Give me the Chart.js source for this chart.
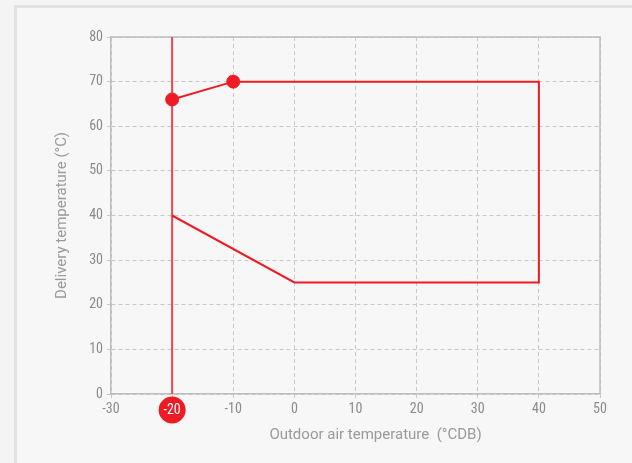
<!DOCTYPE html>
<html>
<head>
<meta charset="utf-8">
<script src="https://cdn.jsdelivr.net/npm/chart.js@4.4.1/dist/chart.umd.min.js"></script>
<style>
  html, body { margin: 0; padding: 0; background: #f4f4f4; width: 632px; height: 463px; overflow: hidden; }
  #frame { position: absolute; left: 14px; top: 5px; width: 700px; height: 600px;
           border-left: 3px solid #e2e2e2; border-top: 3px solid #e2e2e2; background: #f7f7f7; box-sizing: border-box; }
  #wrap { position: absolute; left: 0; top: 0; width: 632px; height: 463px; }
</style>
</head>
<body>
<div id="frame"></div>
<div id="wrap"><canvas id="c" width="632" height="463"></canvas></div>
<script>
// Operating envelope (outline), outdoor temp (°C DB) vs delivery temp (°C)
const envelopeX = [-20, -10, 40, 40, 0, -20];
const envelopeY = [66, 70, 70, 25, 25, 40];
// Marked points
const markerX = [-20, -10];
const markerY = [66, 70];
// Vertical reference line at -20 °C
const refLineX = [-20, -20];
const refLineY = [0, 80];
const refValue = -20;
// Axes
const xTicks = [-30, -20, -10, 0, 10, 20, 30, 40, 50];
const yTicks = [0, 10, 20, 30, 40, 50, 60, 70, 80];
const xTitle = 'Outdoor air temperature  (°CDB)';
const yTitle = 'Delivery temperature (°C)';

const toPts = (xs, ys) => xs.map((x, i) => ({ x: x, y: ys[i] }));

// pick a condensed face for tick labels if one is installed
function hasFont(name) {
  const c = document.createElement('canvas').getContext('2d');
  const s = 'mmmmwwwwiiii0123456789';
  c.font = '40px monospace';
  const w1 = c.measureText(s).width;
  c.font = "40px '" + name + "', monospace";
  const w2 = c.measureText(s).width;
  return Math.abs(w1 - w2) > 0.5;
}
let tickFont;
if (hasFont('Liberation Sans Narrow')) {
  tickFont = { family: "'Liberation Sans Narrow', sans-serif", size: 14 };
} else if (hasFont('Roboto Condensed')) {
  tickFont = { family: "'Roboto Condensed', sans-serif", size: 14 };
} else {
  tickFont = { family: "Roboto, sans-serif", size: 13 };
}

const RED = '#ed1c24';
const titleFont = { family: "Roboto, sans-serif", size: 15 };

const framePlugin = {
  id: 'frameAndBadge',
  beforeDatasetsDraw(chart) {
    const { ctx, chartArea: a } = chart;
    ctx.save();
    ctx.strokeStyle = '#bdbdbd';
    ctx.lineWidth = 1.5;
    ctx.setLineDash([]);
    ctx.beginPath();
    ctx.moveTo(a.left, a.top);
    ctx.lineTo(a.right, a.top);
    ctx.lineTo(a.right, a.bottom);
    ctx.stroke();
    ctx.restore();
  },
  afterDraw(chart) {
    const { ctx, chartArea: a } = chart;
    const xs = chart.scales.x;
    const px = xs.getPixelForValue(refValue);
    const cy = a.bottom + 16;
    ctx.save();
    // highlighted tick badge
    ctx.fillStyle = RED;
    ctx.beginPath();
    ctx.arc(px, cy, 13.5, 0, Math.PI * 2);
    ctx.fill();
    ctx.fillStyle = '#ffffff';
    ctx.font = tickFont.size + "px " + tickFont.family;
    ctx.textAlign = 'center';
    ctx.textBaseline = 'middle';
    ctx.fillText(String(refValue), px, cy);
    // x axis title (offset to the right as in the original)
    ctx.fillStyle = '#9a9a9a';
    ctx.font = titleFont.size + "px " + titleFont.family;
    ctx.fillText(xTitle, (a.left + a.right) / 2 + 20, a.bottom + 41);
    ctx.restore();
  }
};

new Chart(document.getElementById('c'), {
  type: 'scatter',
  data: {
    datasets: [
      {
        data: toPts(refLineX, refLineY),
        showLine: true,
        borderColor: '#f0454b',
        borderWidth: 2,
        pointRadius: 0,
        order: 3
      },
      {
        data: toPts(envelopeX, envelopeY),
        showLine: true,
        borderColor: RED,
        borderWidth: 2,
        pointRadius: 0,
        order: 2
      },
      {
        data: toPts(markerX, markerY),
        showLine: false,
        backgroundColor: RED,
        borderColor: RED,
        pointRadius: 6.5,
        pointHoverRadius: 6.5,
        order: 1
      }
    ]
  },
  options: {
    responsive: false,
    animation: false,
    events: [],
    layout: { padding: { left: 50, top: 37, right: 32, bottom: 0 } },
    plugins: { legend: { display: false }, tooltip: { enabled: false } },
    scales: {
      x: {
        type: 'linear',
        min: -30, max: 50,
        afterBuildTicks: (s) => { s.ticks = xTicks.map(v => ({ value: v })); },
        afterFit: (s) => { s.height = 69; },
        ticks: {
          font: tickFont,
          color: (ctx) => ctx.tick && ctx.tick.value === refValue ? 'rgba(0,0,0,0)' : '#8a8a8a',
          padding: 3,
          maxRotation: 0
        },
        grid: { color: '#c9c9c9', lineWidth: 1, tickLength: 4, tickColor: '#c9c9c9' },
        border: { display: true, color: '#bdbdbd', width: 1.5, dash: [4, 3] },
        title: { display: false, text: xTitle }
      },
      y: {
        type: 'linear',
        min: 0, max: 80,
        afterBuildTicks: (s) => { s.ticks = yTicks.map(v => ({ value: v })); },
        afterFit: (s) => { s.width = 61; },
        ticks: { font: tickFont, color: '#8a8a8a', padding: 4 },
        grid: { color: '#c9c9c9', lineWidth: 1, tickLength: 4, tickColor: '#c9c9c9' },
        border: { display: true, color: '#bdbdbd', width: 1.5, dash: [4, 3] },
        title: { display: true, text: yTitle, color: '#9a9a9a', font: titleFont, padding: { top: 3, bottom: 4 } }
      }
    }
  },
  plugins: [framePlugin]
});
</script>
</body>
</html>
